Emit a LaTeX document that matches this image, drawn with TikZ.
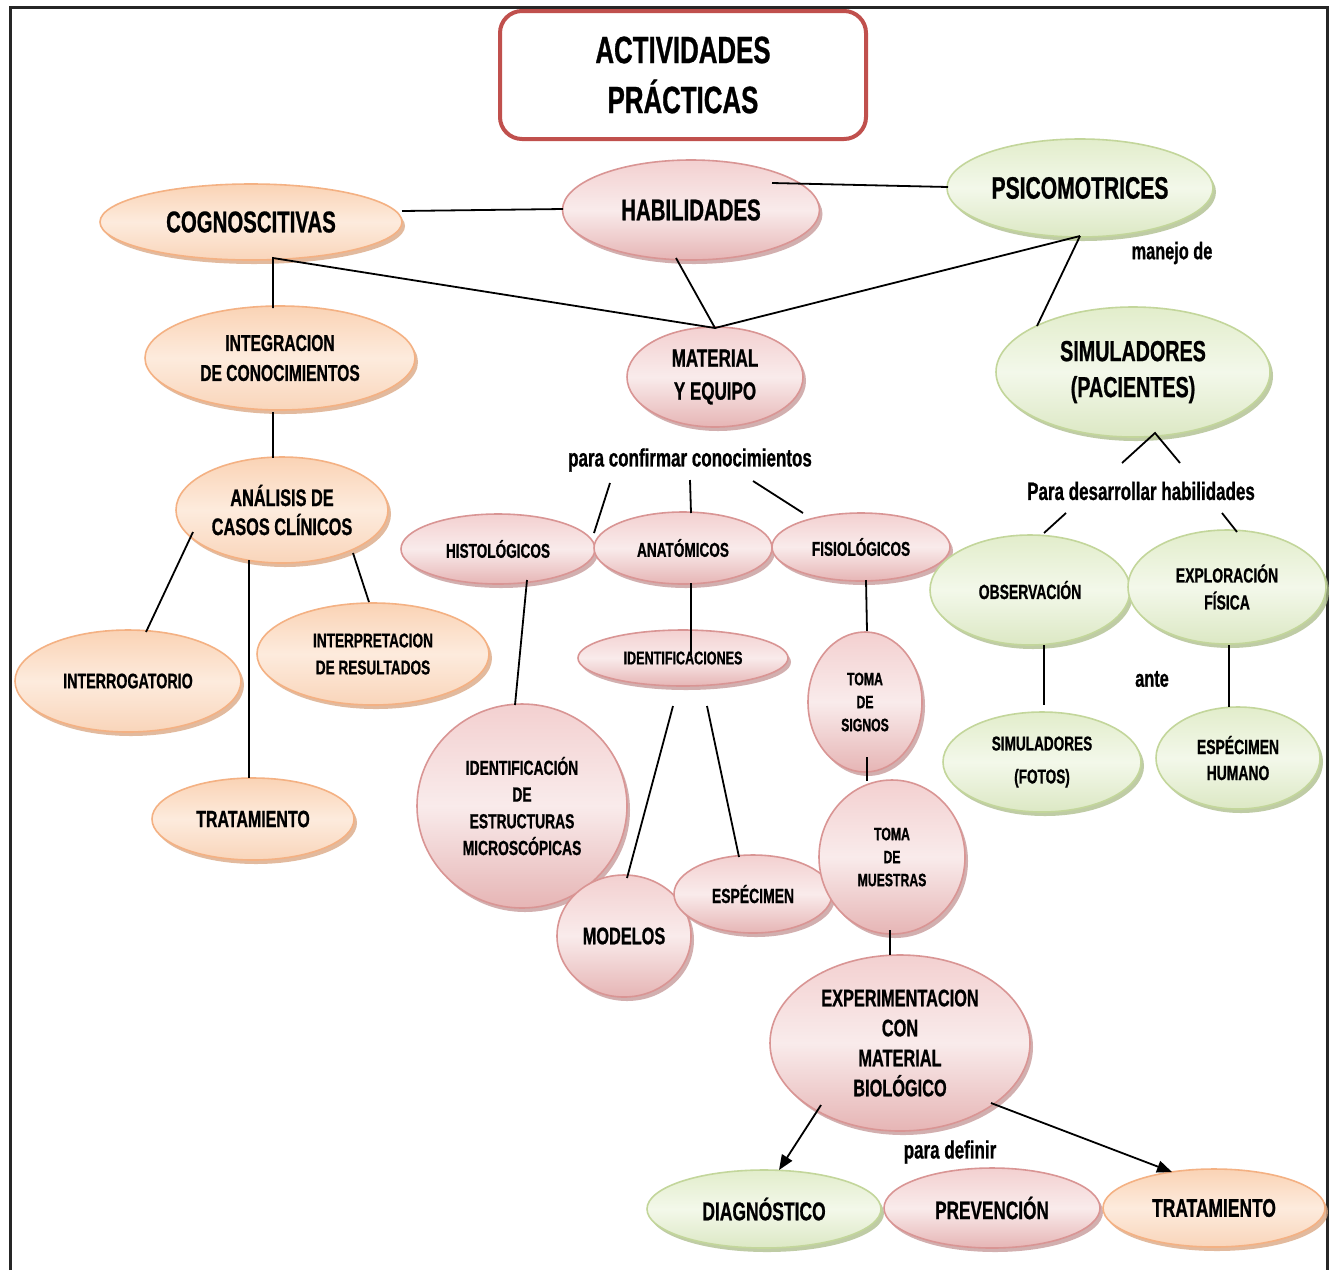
\documentclass[tikz,border=0pt]{standalone}
\usepackage{fontspec}
\setmainfont{Liberation Sans}[FakeStretch=0.68, BoldFeatures={FakeBold=0.8}]
\usetikzlibrary{shapes.geometric,shadows,arrows.meta,calc}
\definecolor{oD}{HTML}{F4B183}
\definecolor{oT}{HTML}{FAD3B5}
\definecolor{oM}{HTML}{FDEBDD}
\definecolor{oB}{HTML}{F9D5BA}
\definecolor{oS}{HTML}{D9A47E}
\definecolor{pD}{HTML}{D99594}
\definecolor{pT}{HTML}{F3D0D0}
\definecolor{pM}{HTML}{F9EBEB}
\definecolor{pB}{HTML}{E6B5B5}
\definecolor{pS}{HTML}{C49595}
\definecolor{gD}{HTML}{C3D69B}
\definecolor{gT}{HTML}{E2EDCB}
\definecolor{gM}{HTML}{F3F8EA}
\definecolor{gB}{HTML}{DCE8C4}
\definecolor{gS}{HTML}{AABB88}
\definecolor{tRed}{HTML}{C0504D}
\tikzset{
  bub/.style={ellipse, inner sep=0pt, line width=1.6pt, align=center},
  org/.style={bub, draw=oD, top color=oT, bottom color=oB, middle color=oM,
    drop shadow={shadow xshift=3pt, shadow yshift=-4pt, fill=oS, opacity=.75}},
  pnk/.style={bub, draw=pD, top color=pT, bottom color=pB, middle color=pM,
    drop shadow={shadow xshift=3pt, shadow yshift=-4pt, fill=pS, opacity=.75}},
  grn/.style={bub, draw=gD, top color=gT, bottom color=gB, middle color=gM,
    drop shadow={shadow xshift=3pt, shadow yshift=-4pt, fill=gS, opacity=.75}},
  wh/.style 2 args={minimum width=#1pt, minimum height=#2pt},
  fs/.style 2 args={font=\bfseries\fontsize{#1}{#2}\selectfont},
  lbl/.style={inner sep=0pt, align=center},
  con/.style={line width=1.8pt, black},
  arr/.style={con, -{Triangle[length=15pt,width=12pt]}},
}
\begin{document}
\begin{tikzpicture}[x=1pt,y=-1pt]
\useasboundingbox (0,0) rectangle (1329,1270);
\fill[white] (0,0) rectangle (1329,1270);
\draw[line width=3pt, black!85] (10,1270) -- (10,7) -- (1327,7) -- (1327,1270);

% title
\node[draw=tRed, fill=white, line width=4pt, rounded corners=22pt, minimum width=366pt, minimum height=128pt, fs={38}{50}, align=center] (title) at (683,75) {ACTIVIDADES\\PRÁCTICAS};

% top level
\node[org, wh={302}{76}, fs={30}{36}] (cog) at (251,222) {COGNOSCITIVAS};
\node[pnk, wh={257}{100}, fs={30}{36}] (hab) at (691,210) {HABILIDADES};
\node[grn, wh={266}{98}, fs={31}{36}] (psi) at (1080,188) {PSICOMOTRICES};
\node[lbl, fs={24}{28}] (manejo) at (1172,253) {manejo de};

\node[org, wh={270}{104}, fs={23}{30}] (int) at (280,358) {INTEGRACION\\DE CONOCIMIENTOS};
\node[pnk, wh={176}{100}, fs={25}{33}] (mat) at (715,377) {MATERIAL\\Y EQUIPO};
\node[grn, wh={274}{130}, fs={29}{36}] (simp) at (1133,372) {SIMULADORES\\(PACIENTES)};

\node[lbl, fs={25}{30}] (pcc) at (690,460) {para confirmar conocimientos};
\node[lbl, fs={25}{30}] (pdh) at (1141,491) {Para desarrollar habilidades};

\node[org, wh={212}{106}, fs={24}{29}] (ana) at (282,510) {ANÁLISIS DE\\CASOS CLÍNICOS};

\node[pnk, wh={194}{70}, fs={20}{24}] (his) at (498,549) {HISTOLÓGICOS};
\node[pnk, wh={178}{72}, fs={20}{24}] (anat) at (683,548) {ANATÓMICOS};
\node[pnk, wh={178}{68}, fs={20}{24}] (fis) at (861,547) {FISIOLÓGICOS};

\node[grn, wh={200}{110}, fs={20.5}{27}] (obs) at (1030,590) {OBSERVACIÓN};
\node[grn, wh={198}{114}, fs={20.5}{27}] (expl) at (1227,587) {EXPLORACIÓN\\FÍSICA};

\node[org, wh={226}{102}, fs={21}{27}] (interrog) at (128,681) {INTERROGATORIO};
\node[org, wh={232}{102}, fs={20}{27}] (interp) at (373,654) {INTERPRETACION\\DE RESULTADOS};

\node[pnk, wh={210}{56}, fs={18.5}{23}] (ident) at (683,658) {IDENTIFICACIONES};
\node[pnk, wh={114}{140}, fs={18}{23}] (tsig) at (865,702) {TOMA\\DE\\SIGNOS};
\node[lbl, fs={24}{28}] (ante) at (1152,679) {ante};

\node[grn, wh={198}{100}, fs={20}{33}] (simf) at (1042,762) {SIMULADORES\\(FOTOS)};
\node[grn, wh={164}{102}, fs={20.5}{26}] (esph) at (1238,758) {ESPÉCIMEN\\HUMANO};

\node[org, wh={202}{82}, fs={23.5}{28}] (trat) at (253,819) {TRATAMIENTO};

\node[pnk, wh={210}{204}, fs={20.4}{26.7}] (idest) at (522,806) {IDENTIFICACIÓN\\DE\\ESTRUCTURAS\\MICROSCÓPICAS};
\node[pnk, wh={134}{122}, fs={24}{28}] (mod) at (624,936) {MODELOS};
\node[pnk, wh={158}{78}, fs={20.5}{25}] (esp) at (753,894) {ESPÉCIMEN};
\node[pnk, wh={146}{154}, fs={18}{23}] (tmu) at (892,857) {TOMA\\DE\\MUESTRAS};

\node[pnk, wh={260}{176}, fs={24}{30}] (exp) at (900,1043) {EXPERIMENTACION\\CON\\MATERIAL\\BIOLÓGICO};
\node[lbl, fs={25}{30}] (pdef) at (950,1152) {para definir};

\node[grn, wh={234}{78}, fs={25.7}{30}] (diag) at (764,1209) {DIAGNÓSTICO};
\node[pnk, wh={216}{80}, fs={25.3}{30}] (prev) at (992,1208) {PREVENCIÓN};
\node[org, wh={222}{78}, fs={25.6}{30}] (trat2) at (1214,1208) {TRATAMIENTO};

% connectors
\draw[con] ($(cog)+(151,-11)$) -- ($(hab)+(-128,-1)$);
\draw[con] ($(hab)+(81,-27)$) -- ($(psi)+(-132,-1)$);
\draw[con] ($(int)+(-7,-50)$) -- ($(cog)+(22,36)$) -- ($(mat)+(0,-49)$);
\draw[con] ($(hab)+(-15,48)$) -- ($(mat)+(0,-49)$);
\draw[con] ($(psi)+(0,48)$) -- ($(mat)+(0,-49)$);
\draw[con] ($(psi)+(0,48)$) -- ($(simp)+(-96,-46)$);
\draw[con] ($(int)+(-7,54)$) -- ($(ana)+(-9,-52)$);
\draw[con] ($(ana)+(-89,22)$) -- ($(interrog)+(18,-49)$);
\draw[con] ($(ana)+(-33,50)$) -- ($(trat)+(-4,-41)$);
\draw[con] ($(ana)+(71,43)$) -- ($(interp)+(-4,-52)$);

\draw[con] ($(pcc)+(-80,23)$) -- ($(his)+(96,-16)$);
\draw[con] ($(pcc)+(0,20)$) -- ($(anat)+(8,-35)$);
\draw[con] ($(pcc)+(63,21)$) -- ($(fis)+(-58,-34)$);

\draw[con] ($(his)+(29,31)$) -- ($(idest)+(-7,-101)$);
\draw[con] ($(anat)+(8,35)$) -- ($(ident)+(8,-3)$);
\draw[con] ($(ident)+(-10,48)$) -- ($(mod)+(3,-58)$);
\draw[con] ($(ident)+(24,48)$) -- ($(esp)+(-14,-37)$);
\draw[con] ($(fis)+(5,33)$) -- ($(tsig)+(2,-71)$);
\draw[con] ($(tsig)+(2,55)$) -- ($(tmu)+(-25,-76)$);
\draw[con] ($(tmu)+(-2,73)$) -- ($(exp)+(-10,-88)$);

\draw[arr] ($(exp)+(-79,62)$) -- ($(diag)+(15,-39)$);
\draw[arr] ($(exp)+(91,60)$) -- ($(trat2)+(-42,-36)$);

\draw[con] ($(pdh)+(-19,-28)$) -- ($(simp)+(22,61)$) -- ($(pdh)+(39,-28)$);
\draw[con] ($(pdh)+(-75,22)$) -- ($(obs)+(14,-57)$);
\draw[con] ($(pdh)+(81,22)$) -- ($(expl)+(10,-55)$);
\draw[con] ($(obs)+(14,55)$) -- ($(simf)+(2,-57)$);
\draw[con] ($(expl)+(2,58)$) -- ($(esph)+(-9,-51)$);
\end{tikzpicture}
\end{document}
